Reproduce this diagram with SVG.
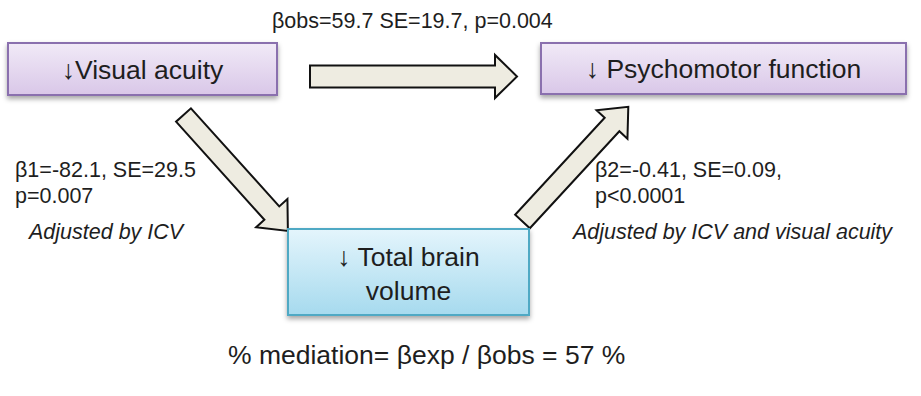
<svg xmlns="http://www.w3.org/2000/svg" width="921" height="396" viewBox="0 0 921 396">
  <defs>
    <linearGradient id="gPurple" x1="0" y1="0" x2="0" y2="1">
      <stop offset="0" stop-color="#f1eaf7"/>
      <stop offset="1" stop-color="#d9c7e8"/>
    </linearGradient>
    <linearGradient id="gBlue" x1="0" y1="0" x2="0" y2="1">
      <stop offset="0" stop-color="#e4f5fc"/>
      <stop offset="1" stop-color="#a6daee"/>
    </linearGradient>
    <filter id="shadow" x="-10%" y="-20%" width="120%" height="150%">
      <feDropShadow dx="0" dy="3" stdDeviation="2.5" flood-color="#000" flood-opacity="0.35"/>
    </filter>
  </defs>
  <style>
    .box-p { fill: url(#gPurple); stroke: #8a6fae; stroke-width: 2; filter: url(#shadow); }
    .box-b { fill: url(#gBlue); stroke: #4fa9c4; stroke-width: 2; filter: url(#shadow); }
    .arrow { fill: #eeece1; stroke: #111; stroke-width: 2; stroke-linejoin: miter; }
    .big { font-family: "Liberation Sans", Arial, sans-serif; font-size: 26.5px; fill: #1e1e1e; }
    .small { font-family: "Liberation Sans", Arial, sans-serif; font-size: 21.5px; fill: #1e1e1e; }
    .ital { font-family: "Liberation Sans", Arial, sans-serif; font-size: 21.5px; font-style: italic; fill: #1e1e1e; }
  </style>
  <rect width="921" height="396" fill="#ffffff"/>

  <g id="connectors">
    <polygon class="arrow" points="310,65.5 495,65.5 495,55 517,76.5 495,98 495,87.5 310,87.5"/>
    <polygon class="arrow" transform="translate(183.5,115) rotate(48)" points="0,-10 132,-10 132,-21 156,0 132,21 132,10 0,10"/>
    <polygon class="arrow" transform="translate(522.5,221.5) rotate(-47.3)" points="0,-10 132,-10 132,-21 156,0 132,21 132,10 0,10"/>
  </g>

  <g id="node-visual">
    <rect class="box-p" x="8" y="43" width="269" height="52"/>
    <text class="big" x="142.5" y="79" text-anchor="middle">↓Visual acuity</text>
  </g>

  <g id="node-psycho">
    <rect class="box-p" x="541" y="43" width="365" height="51"/>
    <text class="big" x="723.5" y="78" text-anchor="middle">↓ Psychomotor function</text>
  </g>

  <g id="node-brain">
    <rect class="box-b" x="288" y="229" width="241" height="86"/>
    <text class="big" x="408.5" y="266" text-anchor="middle">↓ Total brain</text>
    <text class="big" x="408.5" y="300" text-anchor="middle">volume</text>
  </g>

  <g id="labels">
    <text class="small" x="272" y="28">βobs=59.7 SE=19.7, p=0.004</text>
    <text class="small" x="15" y="177">β1=-82.1, SE=29.5</text>
    <text class="small" x="15" y="203">p=0.007</text>
    <text class="ital" x="29" y="239">Adjusted by ICV</text>
    <text class="small" x="595" y="177">β2=-0.41, SE=0.09,</text>
    <text class="small" x="595" y="203">p&lt;0.0001</text>
    <text class="ital" x="573" y="239">Adjusted by ICV and visual acuity</text>
    <text class="big" x="228" y="364">% mediation= βexp / βobs = 57 %</text>
  </g>
</svg>
